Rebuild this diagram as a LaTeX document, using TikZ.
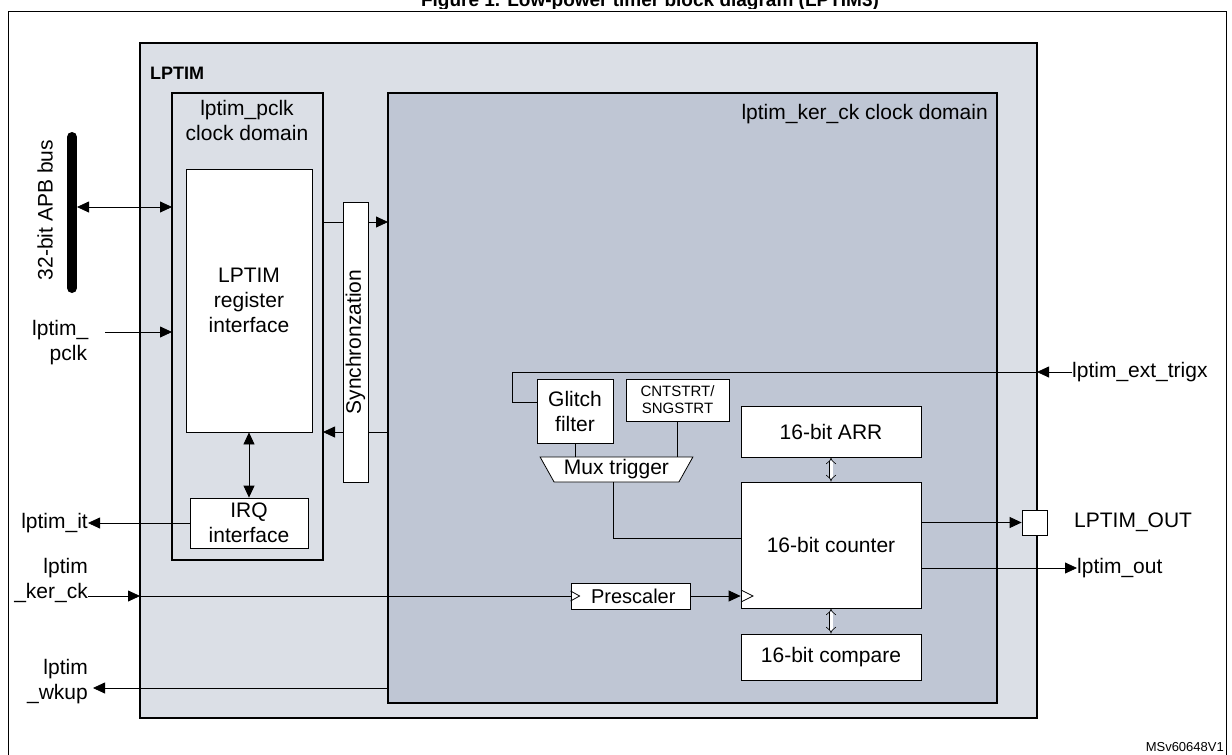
\documentclass[tikz,border=0pt]{standalone}
\usepackage{fontspec}
\setmainfont{Liberation Sans}
\usetikzlibrary{arrows.meta,shapes.geometric}
\begin{document}
\begin{tikzpicture}[x=1pt,y=-1pt,
  lbl/.style={font=\fontsize{21}{25}\selectfont, align=center, inner sep=0pt},
  box/.style={draw, fill=white, line width=0.8pt},
  arr/.style={line width=0.8pt, -{Triangle[length=12pt,width=11pt]}},
  darr/.style={line width=0.8pt, {Triangle[length=12pt,width=11pt]}-{Triangle[length=12pt,width=11pt]}},
  hol/.style={line width=0.6pt, double distance=3pt, {Implies}-{Implies}},
  ln/.style={line width=0.8pt}]
\useasboundingbox (0,0) rectangle (1232,755);
\begin{scope}
\clip (0,0) rectangle (1232,755);
\node[anchor=base, font=\bfseries\fontsize{19}{21}\selectfont, inner sep=0pt] (title) at (650,6) {Figure 1. Low-power timer block diagram (LPTIM3)};
\fill[white] (0,9) rectangle (1232,755);
\draw[line width=1pt] (8,11) rectangle (1226,770);
\end{scope}
\draw[line width=1.5pt, fill={rgb,255:red,219;green,223;blue,230}] (140,43) rectangle (1037,718);
\node[anchor=north west, font=\bfseries\fontsize{18}{20}\selectfont, inner sep=0pt] (lptim) at (150,67) {LPTIM};
\draw[line width=1.5pt] (172,93) rectangle (323,560);
\node[lbl, anchor=north] (pclkd) at (247,100) {lptim\_pclk\\clock domain};
\draw[line width=1.5pt, fill={rgb,255:red,191;green,198;blue,212}] (388,93) rectangle (997,703);
\node[lbl, anchor=north east] (kerd) at (988,104) {lptim\_ker\_ck clock domain};
\node[box, minimum width=126pt, minimum height=263pt, lbl] (reg) at (249,300.5) {LPTIM\\register\\interface};
\node[box, minimum width=118pt, minimum height=50pt, lbl] (irq) at (249,523) {IRQ\\interface};
\node[box, minimum width=25pt, minimum height=280pt] (sync) at (355.5,342) {};
\node[lbl, rotate=90] (synct) at (355.5,342) {Synchronzation};
% bus
\draw[line width=10pt, line cap=round] (72,137) -- (72,288);
\node[lbl, rotate=90] (bust) at (45,210) {32-bit APB bus};
\draw[darr] (77,207) -- (172,207);
\node[lbl, align=left, anchor=north west] (pclk) at (32,320) {lptim\_\\\ \ \ pclk};
\draw[arr] (105,332) -- (172,332);
\node[lbl, anchor=east] (itl) at (88,523) {lptim\_it};
\draw[arr] (irq.west) -- (itl.east);
\draw[darr] (reg.south) -- (irq.north);
% sync lines
\draw[ln] (323,222) -- (343,222);
\draw[arr] (368,222) -- (388,222);
\draw[ln] (388,432) -- (368,432);
\draw[arr] (343,432) -- (323,432);
% ker ck
\node[lbl, align=right, anchor=north east] (kerl) at (88,558) {lptim\\\_ker\_ck};
\node[draw, fill=white, line width=0.8pt, minimum width=119pt, minimum height=26pt, inner sep=0pt, font=\fontsize{20}{24}\selectfont] (pre) at (630.5,596) {\ Prescaler};
\draw[ln] ([yshift=-5pt]pre.west) -- ([xshift=9pt]pre.west) -- ([yshift=5pt]pre.west);
\draw[arr] (88,596) -- (140,596);
\draw[ln] (140,596) -- (pre.west);
% wkup
\node[lbl, align=right, anchor=north east] (wk) at (88,659) {lptim\\\_wkup};
\draw[arr] (388,688) -- (93,688);
% counter blocks
\node[box, minimum width=180pt, minimum height=51pt, lbl] (arr) at (831,431.5) {16-bit ARR};
\node[box, minimum width=180pt, minimum height=126pt, lbl] (cnt) at (831,545) {16-bit counter};
\node[box, minimum width=180pt, minimum height=46pt, lbl] (cmp) at (831,657) {16-bit compare};
\draw[hol] (arr.south) -- (cnt.north);
\draw[hol] (cnt.south) -- (cmp.north);
\draw[arr] (pre.east) -- (cnt.west |- pre.east);
\draw[ln] (741,590) -- (753,596) -- (741,602);
% trigger
\node[box, minimum width=76pt, minimum height=64pt, lbl] (gl) at (575,411) {Glitch\\filter};
\node[box, minimum width=103pt, minimum height=42pt, align=center, inner sep=0pt, font=\fontsize{15}{17}\selectfont] (cs) at (677.5,400) {CNTSTRT/\\SNGSTRT};
\node[draw, fill=white, line width=0.8pt, trapezium, shape border rotate=180, trapezium stretches=true, trapezium left angle=59, trapezium right angle=59, minimum width=153pt, minimum height=25pt, inner sep=0pt, lbl] (mux) at (616.5,469.5) {Mux trigger};
\draw[ln] (gl.south) -- (gl.south |- mux.north);
\draw[ln] (cs.south) -- (cs.south |- mux.north);
\draw[ln] (613,482) -- (613,538) -- (cnt.west |- 0,538);
\node[lbl, anchor=west] (ext) at (1072,372) {lptim\_ext\_trigx};
\draw[arr] (ext.west) -- (1037,372);
\draw[ln] (1037,372) -- (512,372) -- (512,402) -- (gl.west |- 0,402);
% outputs
\node[draw, fill=white, line width=0.8pt, minimum size=25pt, inner sep=0pt] (pin) at (1034.5,522.5) {};
\node[lbl, anchor=west] (pinl) at (1074,522) {LPTIM\_OUT};
\draw[arr] (cnt.east |- pin.west) -- (pin.west);
\node[lbl, anchor=west] (outl) at (1077,568) {lptim\_out};
\draw[arr] (cnt.east |- 0,568) -- (outl.west);
\node[anchor=base east, font=\fontsize{13}{15}\selectfont, inner sep=0pt] (ms) at (1224,751) {MSv60648V1};
\end{tikzpicture}
\end{document}
